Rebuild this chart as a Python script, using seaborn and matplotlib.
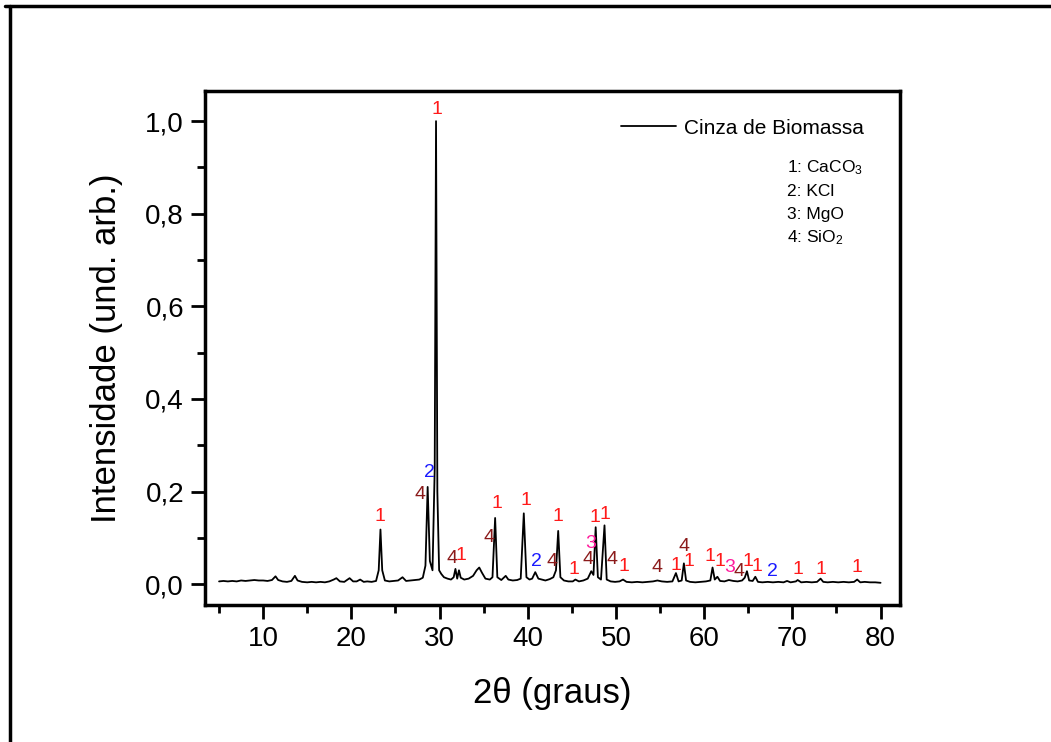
import matplotlib
matplotlib.use('Agg')
import matplotlib.pyplot as plt
import seaborn as sns
from matplotlib.ticker import MultipleLocator, FuncFormatter
from matplotlib.lines import Line2D

# XRD pattern (2theta in degrees, normalised intensity)
two_theta = [
    5.0, 5.5, 6.0, 6.5, 7.0, 7.5, 8.0, 8.5, 9.0, 9.5, 10.0, 10.5, 11.0, 11.4, 11.7,
    12.2, 12.7, 13.2, 13.6, 13.9, 14.4, 15.0, 15.5, 16.0, 16.5, 17.0, 17.5, 18.0, 18.3,
    18.7, 19.2, 19.8, 20.2, 20.6, 21.0, 21.4, 21.8, 22.3, 22.8, 23.1, 23.3, 23.5, 23.8,
    24.3, 24.8, 25.3, 25.8, 26.2, 26.7, 27.2, 27.7, 28.1, 28.4, 28.65, 28.9, 29.2, 29.45,
    29.6, 29.75, 29.95, 30.2, 30.5, 30.9, 31.3, 31.6, 31.8, 32.0, 32.2, 32.4, 32.8, 33.3,
    33.8, 34.2, 34.5, 34.8, 35.2, 35.7, 36.0, 36.3, 36.55, 37.0, 37.5, 37.8, 38.3, 38.8,
    39.2, 39.55, 39.85, 40.2, 40.5, 40.85, 41.2, 41.6, 42.0, 42.5, 42.9, 43.2, 43.45,
    43.7, 44.1, 44.6, 45.1, 45.4, 45.8, 46.3, 46.8, 47.2, 47.45, 47.7, 47.95, 48.3, 48.7,
    48.95, 49.4, 49.9, 50.4, 50.8, 51.2, 51.8, 52.4, 53.0, 53.6, 54.2, 54.7, 55.2, 55.8,
    56.4, 56.8, 57.1, 57.45, 57.7, 57.95, 58.4, 59.0, 59.6, 60.2, 60.7, 60.95, 61.2, 61.5,
    61.8, 62.3, 62.8, 63.3, 63.8, 64.3, 64.6, 64.85, 65.1, 65.5, 65.8, 66.1, 66.6, 67.2,
    67.8, 68.4, 69.0, 69.4, 69.8, 70.4, 70.6, 71.0, 71.6, 72.2, 72.8, 73.2, 73.5, 74.0,
    74.6, 75.2, 75.8, 76.4, 77.0, 77.35, 77.7, 78.2, 78.8, 79.4, 80.0,
]
intensity = [
    0.006, 0.007, 0.006, 0.007, 0.006, 0.008, 0.007, 0.008, 0.009, 0.008, 0.008, 0.007, 0.009, 0.017, 0.009,
    0.006, 0.005, 0.007, 0.018, 0.008, 0.005, 0.004, 0.005, 0.004, 0.005, 0.004, 0.006, 0.010, 0.013,
    0.006, 0.005, 0.013, 0.006, 0.006, 0.010, 0.005, 0.006, 0.005, 0.007, 0.030, 0.118, 0.030, 0.008,
    0.006, 0.007, 0.008, 0.015, 0.007, 0.008, 0.009, 0.010, 0.014, 0.040, 0.210, 0.050, 0.030, 0.250,
    1.000, 0.200, 0.030, 0.022, 0.015, 0.012, 0.010, 0.015, 0.033, 0.012, 0.030, 0.014, 0.010, 0.012,
    0.018, 0.030, 0.036, 0.025, 0.012, 0.010, 0.015, 0.143, 0.015, 0.009, 0.018, 0.010, 0.008, 0.009,
    0.012, 0.153, 0.015, 0.010, 0.012, 0.026, 0.012, 0.010, 0.008, 0.011, 0.015, 0.030, 0.115,
    0.015, 0.008, 0.006, 0.006, 0.010, 0.006, 0.008, 0.012, 0.028, 0.020, 0.123, 0.015, 0.010, 0.127,
    0.010, 0.006, 0.005, 0.006, 0.010, 0.005, 0.004, 0.005, 0.004, 0.005, 0.006, 0.008, 0.006, 0.005,
    0.006, 0.024, 0.006, 0.008, 0.045, 0.008, 0.005, 0.004, 0.005, 0.006, 0.008, 0.036, 0.010, 0.016,
    0.007, 0.006, 0.009, 0.007, 0.006, 0.008, 0.014, 0.028, 0.008, 0.007, 0.016, 0.005, 0.004, 0.005,
    0.004, 0.005, 0.004, 0.007, 0.004, 0.006, 0.009, 0.004, 0.005, 0.004, 0.005, 0.012, 0.005, 0.004,
    0.005, 0.004, 0.005, 0.004, 0.005, 0.010, 0.004, 0.005, 0.004, 0.004, 0.003,
]

# phase markers: position, height, phase number
mark_x = [29.7, 23.2, 27.8, 28.8, 31.4, 32.4, 35.6, 36.5, 39.8, 41.0, 42.8, 43.4, 45.2,
          47.1, 46.8, 47.6, 48.7, 49.5, 50.9, 54.7, 56.8, 57.7, 58.3, 60.7, 61.8, 62.9,
          64.0, 65.0, 66.0, 67.7, 70.6, 73.2, 77.3]
mark_y = [1.026, 0.147, 0.194, 0.242, 0.056, 0.063, 0.100, 0.175, 0.181, 0.050, 0.050, 0.147, 0.032,
          0.088, 0.054, 0.145, 0.151, 0.054, 0.039, 0.035, 0.041, 0.082, 0.050, 0.060, 0.048, 0.035,
          0.028, 0.048, 0.039, 0.028, 0.032, 0.032, 0.035]
mark_id = ['1', '1', '4', '2', '4', '1', '4', '1', '1', '2', '4', '1', '1',
           '3', '4', '1', '1', '4', '1', '4', '1', '4', '1', '1', '1', '3',
           '4', '1', '1', '2', '1', '1', '1']
phase_colors = {'1': '#ff1a1a', '2': '#1a1aff', '3': '#ff1a9c', '4': '#8b1a1a'}
phases = ['1: CaCO$_3$', '2: KCl', '3: MgO', '4: SiO$_2$']

sns.set_style('ticks')
plt.rcParams['font.family'] = ['Liberation Sans', 'DejaVu Sans']
plt.rcParams['mathtext.fontset'] = 'custom'
plt.rcParams['mathtext.rm'] = 'Liberation Sans'
plt.rcParams['mathtext.it'] = 'Liberation Sans:italic'
for k in ['text.color', 'axes.labelcolor', 'axes.edgecolor', 'xtick.color', 'ytick.color']:
    plt.rcParams[k] = 'black'

fig = plt.figure(figsize=(10.51, 7.42), dpi=100)
ax = fig.add_axes([0.195, 0.1846, 0.6613, 0.6927])

sns.lineplot(x=two_theta, y=intensity, ax=ax, color='black', lw=1.3, estimator=None)

for x, y, t in zip(mark_x, mark_y, mark_id):
    ax.text(x, y, t, color=phase_colors[t], fontsize=14, ha='center', va='center')

ax.set_xlim(3.4, 82.2)
ax.set_ylim(-0.045, 1.065)
ax.xaxis.set_major_locator(MultipleLocator(10))
ax.xaxis.set_minor_locator(MultipleLocator(5))
ax.yaxis.set_major_locator(MultipleLocator(0.2))
ax.yaxis.set_minor_locator(MultipleLocator(0.1))
ax.yaxis.set_major_formatter(FuncFormatter(lambda v, p: f'{v:.1f}'.replace('.', ',')))
ax.set_xticks([10, 20, 30, 40, 50, 60, 70, 80])

ax.tick_params(which='major', direction='out', length=10, width=2, labelsize=20, pad=5)
ax.tick_params(which='minor', direction='out', length=6, width=2)
for s in ax.spines.values():
    s.set_linewidth(2.5)

ax.set_xlabel('2θ (graus)', fontsize=25, labelpad=18)
ax.set_ylabel('Intensidade (und. arb.)', fontsize=25, labelpad=16)

handle = Line2D([], [], color='black', lw=1.3)
ax.legend([handle], ['Cinza de Biomassa'], loc='center right', bbox_to_anchor=(0.96, 0.928),
          frameon=False, fontsize=15, handlelength=2.6, handletextpad=0.4, borderaxespad=0)

for i, p in enumerate(phases):
    ax.text(0.837, 0.85 - i * 0.045, p, transform=ax.transAxes, fontsize=12.5, va='center')

# outer frame (top and left only)
fig.add_artist(Line2D([0.005, 1.0], [1 - 6 / 742, 1 - 6 / 742], color='black', lw=2.5,
                      transform=fig.transFigure))
fig.add_artist(Line2D([9.5 / 1051, 9.5 / 1051], [0.0, 1 - 6 / 742], color='black', lw=2.5,
                      transform=fig.transFigure))

fig.savefig('out.png', dpi=100)
